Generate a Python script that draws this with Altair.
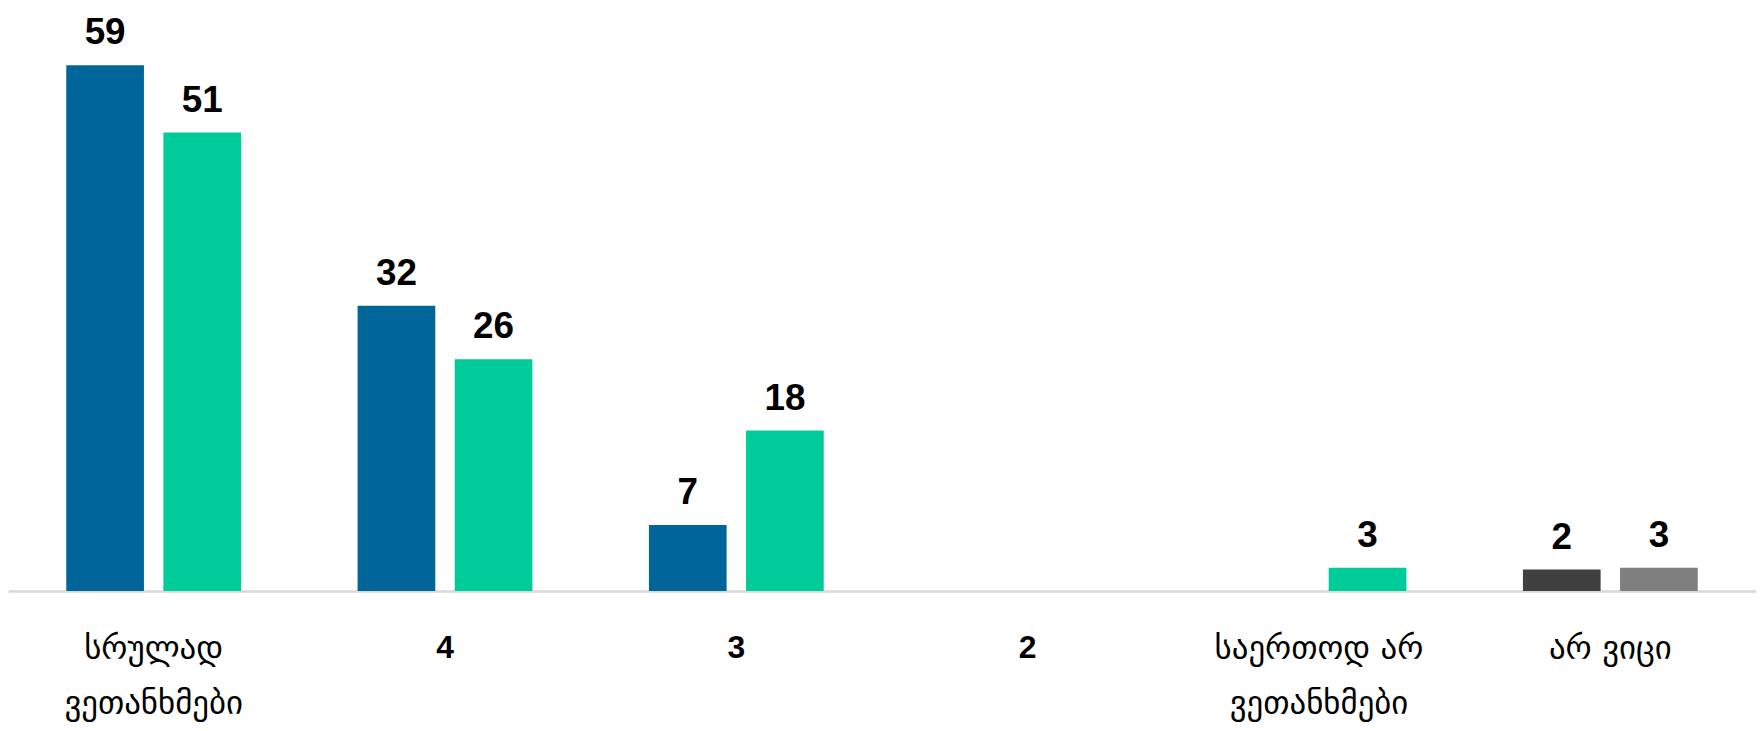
import altair as alt
import pandas as pd

categories = ["სრულად ვეთანხმები", "4", "3", "2", "საერთოდ არ ვეთანხმები", "არ ვიცი"]
series1 = [59, 32, 7.4, None, None, None]
series2 = [51.45, 26, 18, None, 2.6, None]
dont_know = [2.4, 2.6]

c1, c2 = "#006699", "#00CC99"
grey_colors = ["#404040", "#7F7F7F"]

rows = []
for cat, a, b in zip(categories, series1, series2):
    if a is not None:
        rows.append({"cat": cat, "slot": 0, "value": a, "color": c1})
    if b is not None:
        rows.append({"cat": cat, "slot": 1, "value": b, "color": c2})
for i, v in enumerate(dont_know):
    rows.append({"cat": categories[-1], "slot": i, "value": v, "color": grey_colors[i]})
df = pd.DataFrame(rows)

short = "length(datum.label) < 3"
x = alt.X("cat:N", sort=categories, title=None,
          scale=alt.Scale(domain=categories, paddingInner=0, paddingOuter=0),
          axis=alt.Axis(
              labelAngle=0, ticks=False, domainColor="#D9D9D9", domainWidth=2.5,
              labelColor="#000000", labelPadding=42,
              labelLineHeight=55, labelLimit=400,
              labelFontSize={"condition": {"test": short, "value": 32}, "value": 33},
              labelFont={"condition": {"test": short, "value": "Liberation Sans"}, "value": "DejaVu Sans"},
              labelFontWeight={"condition": {"test": short, "value": "bold"}, "value": "normal"},
              labelExpr="length(datum.label) > 10 ? [slice(datum.label, 0, lastindexof(datum.label, ' ')), slice(datum.label, lastindexof(datum.label, ' ') + 1)] : datum.label",
          ))
xo = alt.XOffset("slot:O", scale=alt.Scale(paddingInner=0.2, paddingOuter=0.6))
y = alt.Y("value:Q", scale=alt.Scale(domain=[0, 64.8], nice=False), axis=None, title=None)

base = alt.Chart(df).encode(x=x, xOffset=xo, y=y)
bars = base.mark_bar().encode(color=alt.Color("color:N", scale=None))
labels = base.mark_text(font="Liberation Sans", fontWeight="bold", fontSize=37, baseline="alphabetic",
                        dy=-21, color="#000000").encode(text=alt.Text("value:Q", format=".0f"))

chart = (bars + labels).properties(
    width=1756, height=580,
    padding={"left": 0, "right": 0, "top": 4, "bottom": 0},
).configure_view(stroke=None)
chart.save("out.html", embed_options={"renderer": "svg", "actions": False})
